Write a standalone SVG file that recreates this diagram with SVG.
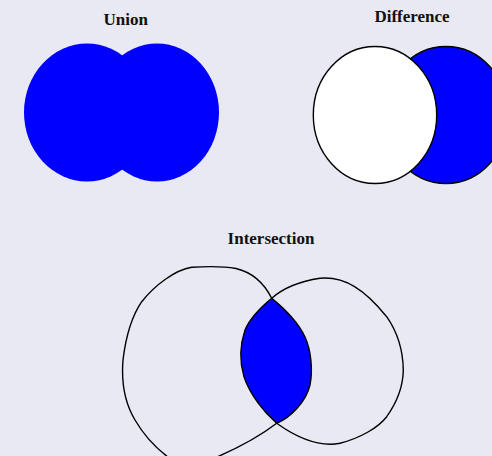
<svg xmlns="http://www.w3.org/2000/svg" width="492" height="456" viewBox="0 0 492 456">
<style>
.title{font-family:"Liberation Serif","Times New Roman",serif;font-weight:bold;font-size:17px;fill:#111;text-anchor:middle}
.blue{fill:#0000ff}
.outline{fill:none;stroke:#000;stroke-width:1.4}
.edge{stroke:#000;stroke-width:1.4}
</style>
<rect width="492" height="456" fill="#e9e9f3"/>
<g id="union">
<text class="title" x="125.7" y="25">Union</text>
<ellipse class="blue" cx="87" cy="112.5" rx="63" ry="69"/>
<ellipse class="blue" cx="157" cy="112.5" rx="62" ry="69"/>
</g>
<g id="difference">
<text class="title" x="412" y="22">Difference</text>
<ellipse class="blue edge" cx="446" cy="115" rx="62" ry="68.5"/>
<ellipse class="edge" fill="#fff" cx="375" cy="115" rx="61.7" ry="68.5"/>
</g>
<g id="intersection">
<text class="title" x="271" y="243.5">Intersection</text>
<path class="outline" d="M271.7,298.3 C265,285 255,273 236,268.5 C225,266.5 205,266.5 191.7,267.3 C175,270 155,285 141.7,301.7 C132,316 126,335 123,360 C121,385 126,405 135,420 C142,432 152,446 172,460 L205,462 C230,452 255,440 276.7,423.3"/>
<path class="outline" d="M271.7,298.3 C280,291 295,282 320,278.3 C345,276 365,290 386.7,316.7 C398,333 403,350 403.3,370 C403,390 395,405 386.7,416.7 C378,428 360,438 340,443.3 C320,447 300,440 276.7,423.3"/>
<path class="blue edge" d="M271.7,298.3 C285,309 298,322 305,337 C311,350 313,370 310,385 C306,402 290,418 276.7,423.3 C265,413 250,395 244,376.7 C239,360 240,345 245,330 C250,318 260,308 271.7,298.3 Z"/>
</g>
</svg>
